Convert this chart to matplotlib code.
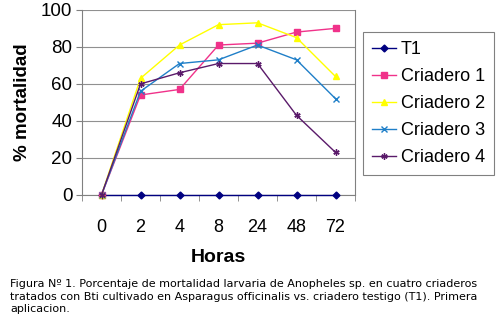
"""Mortalidad larvaria por criadero (primera aplicacion)
"""
import matplotlib as mpl
import matplotlib.pyplot as plt
import numpy as np

mpl.rcParams['font.family'] = ['Liberation Sans', 'DejaVu Sans']

horas = ['0', '2', '4', '8', '24', '48', '72']
t1 = [0, 0, 0, 0, 0, 0, 0]
criadero_1 = [0, 54, 57, 81, 82, 88, 90]
criadero_2 = [0, 63, 81, 92, 93, 85, 64]
criadero_3 = [0, 56, 71, 73, 81, 73, 52]
criadero_4 = [0, 60, 66, 71, 71, 43, 23]

series = [
    ('T1', t1, '#000080', 'D', 3.5),
    ('Criadero 1', criadero_1, '#f0328a', 's', 4.5),
    ('Criadero 2', criadero_2, '#ffff00', '^', 5),
    ('Criadero 3', criadero_3, '#1f7fc8', 'x', 5),
    ('Criadero 4', criadero_4, '#5a1a6a', (6, 2, 0), 4.5),
]

fig = plt.figure(figsize=(5, 3.18), dpi=100)
ax = fig.add_axes([0.164, 0.387, 0.546, 0.582])

x = np.arange(len(horas))
handles = []
for name, vals, col, mk, ms in series:
    h, = ax.plot(x, vals, color=col, marker=mk, markersize=ms, linewidth=1,
                 markeredgewidth=1, clip_on=False, zorder=3, label=name)
    handles.append(h)

ax.set_xlim(-0.5, len(horas) - 0.5)
ax.set_ylim(0, 100)
ax.set_yticks(np.arange(0, 101, 20))
ax.set_xticks(x)
ax.set_xticklabels(horas, fontsize=13)
ax.set_xticks(np.arange(-0.5, len(horas), 1), minor=True)
ax.tick_params(axis='x', which='major', length=0, pad=17)
ax.tick_params(axis='x', which='minor', length=4, direction='out', color='#808080')
ax.tick_params(axis='y', labelsize=13.5, length=4, direction='out', color='#808080', pad=3)
ax.yaxis.grid(True, color='#909090', linewidth=0.8)
ax.set_axisbelow(True)
for s in ['top', 'right', 'left', 'bottom']:
    ax.spines[s].set_color('#808080')
ax.spines['top'].set_visible(False)

ax.set_ylabel('% mortalidad', fontsize=13.5, fontweight='bold', labelpad=7)
ax.set_xlabel('Horas', fontsize=14, fontweight='bold', labelpad=10)

leg = fig.legend(handles=handles, loc='upper left', bbox_to_anchor=(0.726, 0.899),
                 borderaxespad=0, fontsize=13, frameon=True, fancybox=False,
                 edgecolor='#606060', handlelength=1.3, handletextpad=0.3,
                 labelspacing=0.55, borderpad=0.5)
leg.get_frame().set_linewidth(0.8)

fig.text(0.02, 0.122,
         'Figura Nº 1. Porcentaje de mortalidad larvaria de Anopheles sp. en cuatro criaderos\n'
         'tratados con Bti cultivado en Asparagus officinalis vs. criadero testigo (T1). Primera\n'
         'aplicacion.',
         fontsize=8.0, family='DejaVu Sans', va='top', linespacing=1.3)

fig.savefig('out.png', dpi=100)
plt.close()
